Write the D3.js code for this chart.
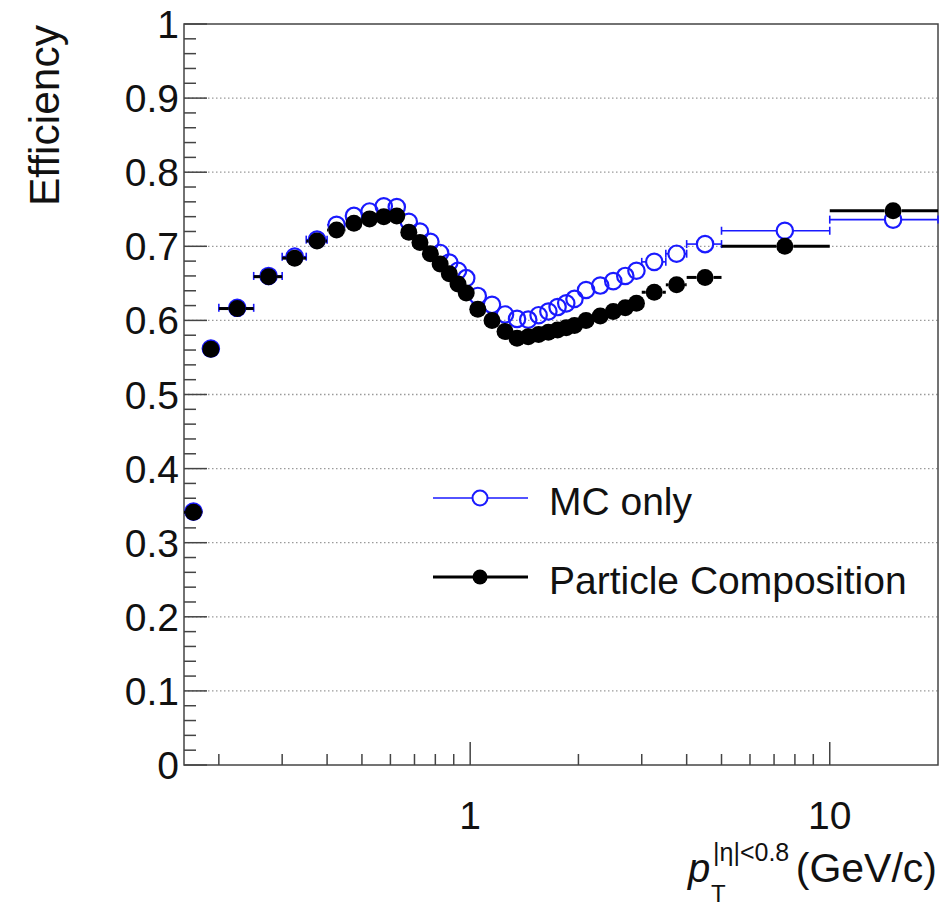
<!DOCTYPE html>
<html>
<head>
<meta charset="utf-8">
<script src="https://cdn.jsdelivr.net/npm/d3@7"></script>
<style>
  html, body { margin: 0; padding: 0; background: #fff; }
  svg { display: block; }
  text { font-family: "Liberation Sans", Arial, Helvetica, sans-serif; fill: #111; }
</style>
</head>
<body>
<svg id="chart" width="948" height="908"></svg>
<script>
// ---- data ----
const ptEdges = [0.16, 0.18, 0.2, 0.25, 0.3, 0.35, 0.4, 0.45, 0.5, 0.55, 0.6, 0.65, 0.7, 0.75, 0.8, 0.85, 0.9, 0.95, 1.0,
                 1.1, 1.2, 1.3, 1.4, 1.5, 1.6, 1.7, 1.8, 1.9, 2.0, 2.2, 2.4, 2.6, 2.8, 3.0, 3.5, 4.0, 5.0, 10, 20];
const effMC = [0.342, 0.562, 0.617, 0.660, 0.686, 0.709, 0.729, 0.741, 0.747, 0.754, 0.753, 0.733,
               0.720, 0.706, 0.691, 0.678, 0.667, 0.657, 0.633, 0.621, 0.608, 0.602, 0.601, 0.607,
               0.612, 0.618, 0.623, 0.629, 0.641, 0.647, 0.653, 0.660, 0.667, 0.679, 0.690, 0.703,
               0.721, 0.736];
const effPC = [0.341, 0.561, 0.616, 0.659, 0.684, 0.707, 0.722, 0.731, 0.737, 0.740, 0.741, 0.719,
               0.705, 0.690, 0.676, 0.663, 0.649, 0.637, 0.615, 0.600, 0.585, 0.576, 0.578, 0.581,
               0.584, 0.587, 0.590, 0.593, 0.600, 0.606, 0.612, 0.617, 0.623, 0.638, 0.648, 0.658,
               0.700, 0.748];
const yTicks = [0, 0.1, 0.2, 0.3, 0.4, 0.5, 0.6, 0.7, 0.8, 0.9, 1];
const yTickLabels = ["0", "0.1", "0.2", "0.3", "0.4", "0.5", "0.6", "0.7", "0.8", "0.9", "1"];
const xTickLabels = [{v: 1, t: "1"}, {v: 10, t: "10"}];
const legendItems = [
  {label: "MC only", series: "mc"},
  {label: "Particle Composition", series: "pc"}
];

// ---- layout ----
const L = 184, R = 938, T = 24, B = 765;
const svg = d3.select("#chart");
const x = d3.scaleLog().domain([0.16, 20]).range([L, R]);
const y = d3.scaleLinear().domain([0, 1]).range([B, T]);
const FS = 39;
const blue = "#1a1aff";

function bins(vals) {
  return vals.map((v, i) => ({lo: ptEdges[i], hi: ptEdges[i + 1], c: (ptEdges[i] + ptEdges[i + 1]) / 2, v}));
}
const mc = bins(effMC), pc = bins(effPC);

// grid lines (dotted)
svg.append("g").selectAll("line").data(yTicks.filter(v => v > 0 && v < 1)).join("line")
  .attr("x1", L).attr("x2", R).attr("y1", d => y(d)).attr("y2", d => y(d))
  .attr("stroke", "#9a9a9a").attr("stroke-width", 1.3).attr("stroke-dasharray", "1.5,2.5");

// y axis ticks (major 0.1, minor 0.02)
const yMinor = d3.range(0, 51).map(i => i / 50);
const gy = svg.append("g");
gy.selectAll("line").data(yMinor).join("line")
  .attr("x1", L).attr("x2", (d, i) => L + (i % 5 === 0 ? 23 : 12))
  .attr("y1", d => y(d)).attr("y2", d => y(d))
  .attr("stroke", "#444").attr("stroke-width", 1.5);
gy.selectAll("text").data(yTicks).join("text")
  .attr("x", 179).attr("y", d => y(d) + 14).attr("text-anchor", "end")
  .attr("font-size", FS).text((d, i) => yTickLabels[i]);

// x axis ticks
const xMinor = [0.2,0.3,0.4,0.5,0.6,0.7,0.8,0.9,2,3,4,5,6,7,8,9];
const gx = svg.append("g");
gx.selectAll("line.mi").data(xMinor).join("line")
  .attr("x1", d => x(d)).attr("x2", d => x(d)).attr("y1", B).attr("y2", B - 11)
  .attr("stroke", "#444").attr("stroke-width", 1.5);
gx.selectAll("line.ma").data(xTickLabels).join("line")
  .attr("x1", d => x(d.v)).attr("x2", d => x(d.v)).attr("y1", B).attr("y2", B - 23)
  .attr("stroke", "#444").attr("stroke-width", 1.5);
gx.selectAll("text").data(xTickLabels).join("text")
  .attr("x", d => x(d.v)).attr("y", 829).attr("text-anchor", "middle")
  .attr("font-size", FS).text(d => d.t);

// frame
svg.append("rect").attr("x", L).attr("y", T).attr("width", R - L).attr("height", B - T)
  .attr("fill", "none").attr("stroke", "#444").attr("stroke-width", 1.5);

// axis titles
svg.append("text").attr("transform", `translate(59,25) rotate(-90)`)
  .attr("text-anchor", "end").attr("font-size", 42.5).text("Efficiency");
const xt = svg.append("g");
xt.append("text").attr("x", 688).attr("y", 882).attr("font-size", 40).attr("font-style", "italic").text("p");
xt.append("text").attr("x", 713).attr("y", 861).attr("font-size", 25).text("|η|<0.8");
xt.append("text").attr("x", 711).attr("y", 902).attr("font-size", 24).text("T");
xt.append("text").attr("x", 937).attr("y", 882).attr("text-anchor", "end").attr("font-size", 41).text("(GeV/c)");

// error bars + markers
const rMC = 8.2, rPC = 8.5;
function hbars(g, data, r, color, w, caps) {
  data.forEach(d => {
    const cx = x(d.c), cy = y(d.v), x0 = x(d.lo), x1 = x(d.hi);
    if (x0 < cx - r) g.append("line").attr("x1", x0).attr("x2", cx - r).attr("y1", cy).attr("y2", cy)
      .attr("stroke", color).attr("stroke-width", w);
    if (x1 > cx + r) g.append("line").attr("x1", cx + r).attr("x2", x1).attr("y1", cy).attr("y2", cy)
      .attr("stroke", color).attr("stroke-width", w);
    if (caps && x1 - x0 > 2 * r + 4) {
      [x0, x1].forEach(xx => g.append("line").attr("x1", xx).attr("x2", xx).attr("y1", cy - 4).attr("y2", cy + 4)
        .attr("stroke", color).attr("stroke-width", w));
    }
  });
}
const gmc = svg.append("g");
hbars(gmc, mc, rMC, blue, 1.6, true);
gmc.selectAll("circle").data(mc).join("circle")
  .attr("cx", d => x(d.c)).attr("cy", d => y(d.v)).attr("r", rMC)
  .attr("fill", "none").attr("stroke", blue).attr("stroke-width", 2.2);
const gpc = svg.append("g");
hbars(gpc, pc, rPC, "#000", 3, false);
gpc.selectAll("circle").data(pc).join("circle")
  .attr("cx", d => x(d.c)).attr("cy", d => y(d.v)).attr("r", rPC).attr("fill", "#000");

// legend
const leg = svg.append("g");
const legY = [498, 577];
legendItems.forEach((it, i) => {
  const ly = legY[i];
  const isMC = it.series === "mc";
  leg.append("line").attr("x1", 433).attr("x2", 528).attr("y1", ly).attr("y2", ly)
    .attr("stroke", isMC ? blue : "#000").attr("stroke-width", isMC ? 1.6 : 3);
  if (isMC) leg.append("circle").attr("cx", 480).attr("cy", ly).attr("r", 7.5)
    .attr("fill", "#fff").attr("stroke", blue).attr("stroke-width", 2);
  else leg.append("circle").attr("cx", 480).attr("cy", ly).attr("r", 7.5).attr("fill", "#000");
  leg.append("text").attr("x", 549).attr("y", ly + 17).attr("font-size", FS).text(it.label);
});
</script>
</body>
</html>
